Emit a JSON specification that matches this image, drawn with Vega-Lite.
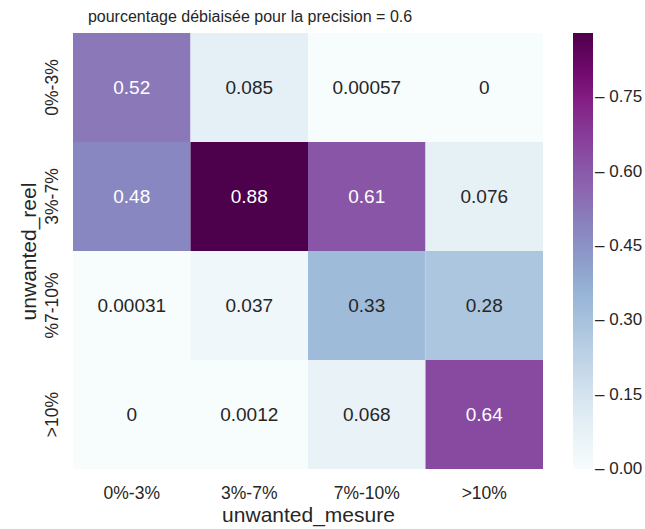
{
  "$schema": "https://vega.github.io/schema/vega-lite/v6.json",
  "width": 470,
  "height": 436,
  "autosize": "none",
  "padding": {"left": 73, "top": 33, "right": 102, "bottom": 60},
  "background": "white",
  "config": {
    "font": "Liberation Sans",
    "view": {"stroke": null},
    "axis": {"labelColor": "#262626", "titleColor": "#262626", "labelFontSize": 17.5, "titleFontSize": 21, "titleFontWeight": "normal", "domain": false, "ticks": false, "grid": false}
  },
  "title": {
    "text": "pourcentage débiaisée pour la precision = 0.6",
    "fontSize": 16,
    "fontWeight": "normal",
    "color": "#262626",
    "anchor": "middle",
    "dx": -58,
    "offset": 8
  },
  "data": {
    "values": [
      {"reel": "0%-3%", "mesure": "0%-3%", "v": 0.52},
      {"reel": "0%-3%", "mesure": "3%-7%", "v": 0.085},
      {"reel": "0%-3%", "mesure": "7%-10%", "v": 0.00057},
      {"reel": "0%-3%", "mesure": ">10%", "v": 0},
      {"reel": "3%-7%", "mesure": "0%-3%", "v": 0.48},
      {"reel": "3%-7%", "mesure": "3%-7%", "v": 0.88},
      {"reel": "3%-7%", "mesure": "7%-10%", "v": 0.61},
      {"reel": "3%-7%", "mesure": ">10%", "v": 0.076},
      {"reel": "%7-10%", "mesure": "0%-3%", "v": 0.00031},
      {"reel": "%7-10%", "mesure": "3%-7%", "v": 0.037},
      {"reel": "%7-10%", "mesure": "7%-10%", "v": 0.33},
      {"reel": "%7-10%", "mesure": ">10%", "v": 0.28},
      {"reel": ">10%", "mesure": "0%-3%", "v": 0},
      {"reel": ">10%", "mesure": "3%-7%", "v": 0.0012},
      {"reel": ">10%", "mesure": "7%-10%", "v": 0.068},
      {"reel": ">10%", "mesure": ">10%", "v": 0.64}
    ]
  },
  "encoding": {
    "x": {
      "field": "mesure", "type": "nominal",
      "sort": ["0%-3%", "3%-7%", "7%-10%", ">10%"],
      "scale": {"paddingInner": 0, "paddingOuter": 0},
      "axis": {"title": "unwanted_mesure", "labelAngle": 0, "labelPadding": 15, "titlePadding": 3}
    },
    "y": {
      "field": "reel", "type": "nominal",
      "sort": ["0%-3%", "3%-7%", "%7-10%", ">10%"],
      "scale": {"paddingInner": 0, "paddingOuter": 0},
      "axis": {"title": "unwanted_reel", "labelAngle": -90, "labelAlign": "center", "labelBaseline": "bottom", "labelPadding": 12, "titlePadding": 4}
    }
  },
  "layer": [
    {
      "mark": {"type": "rect"},
      "encoding": {
        "color": {
          "field": "v", "type": "quantitative",
          "scale": {
            "domain": [0, 0.11, 0.22, 0.33, 0.44, 0.55, 0.66, 0.77, 0.88],
            "range": ["#f7fcfd", "#e0ecf4", "#bfd3e6", "#9ebcda", "#8c96c6", "#8c6bb1", "#88419d", "#810f7c", "#4d004b"]
          },
          "legend": {
            "title": null,
            "orient": "none",
            "legendX": 500,
            "legendY": 0,
            "direction": "vertical",
            "gradientLength": 436,
            "gradientThickness": 20,
            "gradientStrokeWidth": 0,
            "values": [0, 0.15, 0.3, 0.45, 0.6, 0.75],
            "format": ".2f",
            "labelExpr": "'– ' + datum.label",
            "labelFontSize": 17,
            "labelColor": "#262626",
            "labelBaseline": "middle",
            "labelOffset": 2,
            "labelOverlap": false,
            "encode": {
              "labels": {"update": {"baseline": {"value": "middle"}}}
            }
          }
        }
      }
    },
    {
      "mark": {"type": "text", "fontSize": 19},
      "encoding": {
        "text": {"field": "v", "type": "quantitative", "format": ".2~g"},
        "color": {
          "condition": {"test": "datum.v > 0.4", "value": "white"},
          "value": "#262626"
        }
      }
    }
  ]
}
